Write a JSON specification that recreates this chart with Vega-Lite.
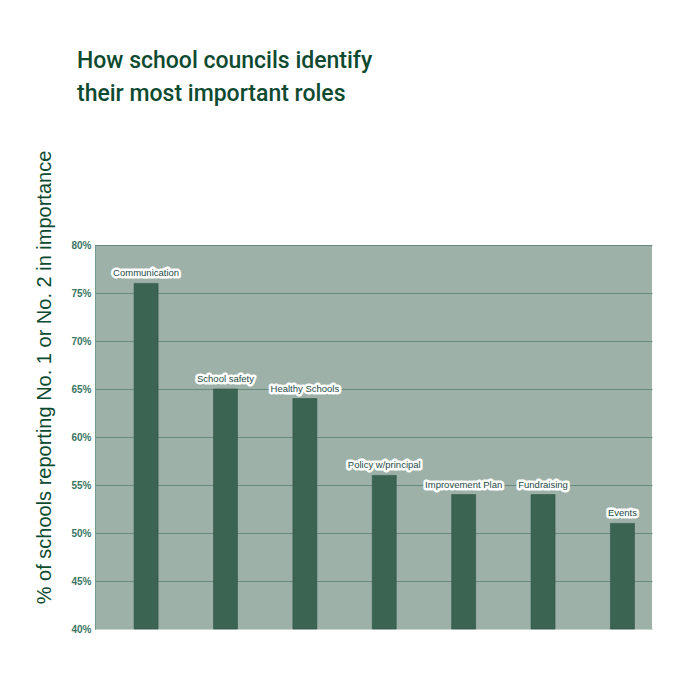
{
  "$schema": "https://vega.github.io/schema/vega-lite/v6.json",
  "autosize": {"type": "none"},
  "width": 557,
  "height": 384,
  "padding": {"left": 95, "top": 245, "right": 29, "bottom": 67},
  "background": "#ffffff",
  "title": {
    "text": ["How school councils identify", "their most important roles"],
    "anchor": "start",
    "frame": "group",
    "dx": -18,
    "offset": 44,
    "font": "Roboto",
    "fontSize": 23,
    "fontWeight": 500,
    "lineHeight": 33,
    "color": "#0d4a30"
  },
  "data": {
    "values": [
      {"role": "Communication", "pct": 76},
      {"role": "School safety", "pct": 65},
      {"role": "Healthy Schools", "pct": 64},
      {"role": "Policy w/principal", "pct": 56},
      {"role": "Improvement Plan", "pct": 54},
      {"role": "Fundraising", "pct": 54},
      {"role": "Events", "pct": 51}
    ]
  },
  "encoding": {
    "x": {
      "field": "role",
      "type": "nominal",
      "sort": null,
      "scale": {"paddingInner": 0.698, "paddingOuter": 0.357, "align": 0.69},
      "axis": {"labels": false, "ticks": false, "title": null, "domainColor": "#c9d6cc", "grid": false}
    },
    "y": {
      "field": "pct",
      "type": "quantitative",
      "scale": {"domain": [40, 80], "zero": false, "nice": false},
      "axis": {
        "values": [40, 45, 50, 55, 60, 65, 70, 75, 80],
        "labelExpr": "datum.value + '%'",
        "title": "% of schools reporting No. 1 or No. 2 in importance",
        "titleFont": "Liberation Sans, Arial, sans-serif",
        "titleFontSize": 20,
        "titleFontWeight": "normal",
        "titleColor": "#0d4a30",
        "titleY": 132,
        "titleX": -41,
        "titleAlign": "center",
        "labelFont": "Liberation Sans, Arial, sans-serif",
        "labelFontSize": 10,
        "labelFontWeight": "bold",
        "labelColor": "#3a7564",
        "labelPadding": 4,
        "ticks": false,
        "domainColor": "#6f9a8f",
        "gridColor": "#5a7f74",
        "gridWidth": 0.8
      }
    }
  },
  "layer": [
    {
      "mark": {"type": "bar", "color": "#3b6452", "stroke": "#2f5646", "strokeWidth": 0.6},
      "encoding": {"y2": {"datum": 40}}
    },
    {
      "mark": {"type": "text", "dy": -10, "fontSize": 9.5, "font": "Liberation Sans, Arial, sans-serif", "stroke": "#ffffff", "strokeWidth": 5, "strokeJoin": "round", "color": "#ffffff"},
      "encoding": {"text": {"field": "role"}}
    },
    {
      "mark": {"type": "text", "dy": -10, "fontSize": 9.5, "font": "Liberation Sans, Arial, sans-serif", "color": "#1e4a46"},
      "encoding": {"text": {"field": "role"}}
    }
  ],
  "config": {
    "view": {"fill": "#9db1a8", "stroke": null}
  }
}
